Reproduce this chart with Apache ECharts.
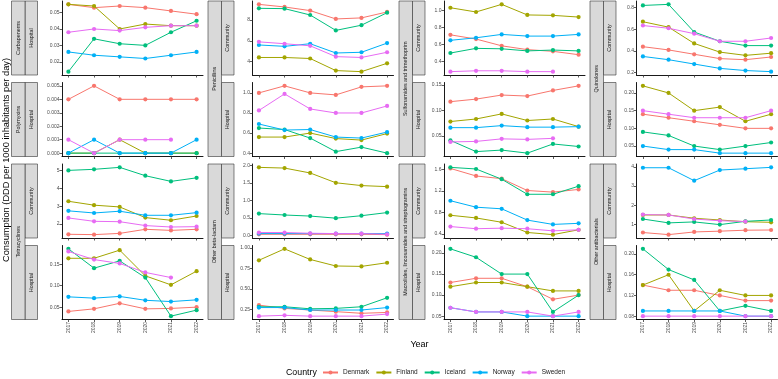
<!DOCTYPE html>
<html>
<head>
<meta charset="utf-8">
<script src="https://cdn.jsdelivr.net/npm/echarts@6/dist/echarts.min.js"></script>
<style>html,body{margin:0;padding:0;background:#fff}#chart{width:778px;height:379px}</style>
</head>
<body>
<div id="chart"></div>
<script>
const years = [2017, 2018, 2019, 2020, 2021, 2022];
const countries = ['Denmark', 'Finland', 'Iceland', 'Norway', 'Sweden'];

// each array: [Denmark, Finland, Iceland, Norway, Sweden]
const carbapenemsHospital = [
  [0.055, 0.053, 0.054, 0.053, 0.051, 0.049],
  [0.055, 0.054, 0.040, 0.043, 0.042, 0.042],
  [0.014, 0.034, 0.031, 0.030, 0.038, 0.045],
  [0.026, 0.024, 0.023, 0.022, 0.024, 0.026],
  [0.038, 0.040, 0.039, 0.041, 0.042, 0.042]];
const polymyxinsHospital = [
  [0.004, 0.005, 0.004, 0.004, 0.004, 0.004],
  [0, 0, 0.001, 0, 0, 0],
  [0, 0, 0, 0, 0, 0],
  [0, 0.001, 0, 0, 0, 0.001],
  [0.001, 0, 0.001, 0.001, 0.001, null]];
const tetracyclinesCommunity = [
  [1.42, 1.40, 1.47, 1.70, 1.64, 1.70],
  [3.28, 3.06, 2.96, 2.36, 2.21, 2.45],
  [5.02, 5.08, 5.19, 4.72, 4.40, 4.60],
  [2.74, 2.62, 2.72, 2.49, 2.49, 2.64],
  [2.34, 2.15, 2.13, 1.91, 1.83, 1.85]];
const tetracyclinesHospital = [
  [0.040, 0.046, 0.059, 0.046, 0.047, 0.050],
  [0.164, 0.164, 0.183, 0.123, 0.102, 0.134],
  [0.186, 0.141, 0.158, 0.119, 0.029, 0.043],
  [0.074, 0.071, 0.075, 0.066, 0.063, 0.067],
  [0.180, 0.161, 0.152, 0.131, 0.119, null]];
const penicillinsCommunity = [
  [9.50, 9.25, 8.90, 8.10, 8.20, 8.77],
  [4.40, 4.40, 4.30, 3.14, 3.04, 3.84],
  [9.12, 9.09, 8.48, 7.00, 7.50, 8.70],
  [5.60, 5.47, 5.72, 4.83, 4.90, 5.78],
  [5.90, 5.72, 5.52, 4.48, 4.40, 4.90]];
const penicillinsHospital = [
  [1.00, 1.07, 1.00, 0.98, 1.06, 1.07],
  [0.56, 0.56, 0.60, 0.545, 0.53, 0.595],
  [0.65, 0.635, 0.55, 0.415, 0.46, 0.40],
  [0.69, 0.63, 0.635, 0.56, 0.55, 0.61],
  [0.825, 0.99, 0.84, 0.80, 0.80, 0.87]];
const otherBetaLactamCommunity = [
  [0.03, 0.03, 0.03, 0.03, 0.03, 0.02],
  [1.94, 1.92, 1.78, 1.50, 1.42, 1.39],
  [0.62, 0.58, 0.55, 0.49, 0.56, 0.65],
  [0.05, 0.05, 0.05, 0.05, 0.05, 0.05],
  [0.08, 0.08, 0.06, 0.05, 0.05, 0.03]];
const otherBetaLactamHospital = [
  [0.30, 0.26, 0.24, 0.22, 0.20, 0.21],
  [0.85, 0.99, 0.86, 0.78, 0.775, 0.82],
  [0.28, 0.28, 0.255, 0.26, 0.28, 0.39],
  [0.27, 0.27, 0.24, 0.24, 0.24, 0.27],
  [0.165, 0.175, 0.165, 0.165, 0.165, 0.19]];
const sulfonamidesCommunity = [
  [0.715, 0.665, 0.585, 0.54, 0.52, 0.48],
  [1.035, 0.985, 1.075, 0.95, 0.945, 0.925],
  [0.50, 0.555, 0.55, 0.525, 0.535, 0.525],
  [0.65, 0.68, 0.72, 0.70, 0.70, 0.72],
  [0.28, 0.29, 0.29, 0.28, 0.28, null]];
const sulfonamidesHospital = [
  [0.117, 0.122, 0.130, 0.128, 0.139, 0.148],
  [0.078, 0.083, 0.093, 0.080, 0.083, 0.068],
  [0.041, 0.019, 0.022, 0.016, 0.034, 0.029],
  [0.066, 0.066, 0.070, 0.067, 0.067, 0.068],
  [0.038, 0.039, 0.044, 0.043, 0.045, null]];
const macrolidesCommunity = [
  [1.62, 1.48, 1.43, 1.21, 1.18, 1.23],
  [0.75, 0.70, 0.62, 0.43, 0.39, 0.48],
  [1.64, 1.61, 1.42, 1.14, 1.14, 1.29],
  [1.02, 0.90, 0.87, 0.66, 0.58, 0.60],
  [0.54, 0.50, 0.51, 0.50, 0.46, 0.48]];
const macrolidesHospital = [
  [0.13, 0.14, 0.14, 0.12, 0.09, 0.10],
  [0.12, 0.13, 0.13, 0.12, 0.11, 0.11],
  [0.21, 0.19, 0.15, 0.15, 0.06, 0.10],
  [0.07, 0.06, 0.06, 0.05, 0.05, 0.05],
  [0.07, 0.06, 0.06, 0.06, 0.05, 0.06]];
const quinolonesCommunity = [
  [0.44, 0.41, 0.37, 0.33, 0.32, 0.345],
  [0.67, 0.62, 0.47, 0.39, 0.36, 0.38],
  [0.82, 0.83, 0.575, 0.49, 0.45, 0.45],
  [0.35, 0.32, 0.28, 0.24, 0.22, 0.21],
  [0.635, 0.61, 0.56, 0.49, 0.49, 0.52]];
const quinolonesHospital = [
  [0.14, 0.13, 0.12, 0.11, 0.10, 0.10],
  [0.22, 0.20, 0.15, 0.16, 0.12, 0.14],
  [0.09, 0.08, 0.05, 0.04, 0.05, 0.06],
  [0.05, 0.04, 0.04, 0.03, 0.03, 0.03],
  [0.15, 0.14, 0.13, 0.13, 0.13, 0.15]];
const otherAntibacterialsCommunity = [
  [0.59, 0.48, 0.62, 0.66, 0.71, 0.72],
  [1.50, 1.50, 1.33, 1.24, 1.15, 1.12],
  [1.29, 1.09, 1.14, 1.00, 1.17, 1.24],
  [3.95, 3.95, 3.28, 3.83, 3.90, 3.97],
  [1.52, 1.50, 1.29, 1.20, 1.16, null]];
const otherAntibacterialsHospital = [
  [0.14, 0.13, 0.13, 0.12, 0.11, 0.11],
  [0.14, 0.16, 0.09, 0.13, 0.12, 0.12],
  [0.21, 0.17, 0.15, 0.09, 0.10, 0.09],
  [0.09, 0.09, 0.09, 0.09, 0.08, 0.08],
  [0.08, 0.08, 0.08, 0.08, 0.08, 0.08]];

// tick labels
const ticksCarbapenemsHosp = ['0.02', '0.03', '0.04', '0.05'];
const ticksPolymyxinsHosp = ['0.000', '0.001', '0.002', '0.003', '0.004', '0.005'];
const ticksTetraComm = ['2', '3', '4', '5'];
const ticksTetraHosp = ['0.05', '0.10', '0.15'];
const ticksPeniComm = ['4', '6', '8'];
const ticksPeniHosp = ['0.4', '0.6', '0.8', '1.0'];
const ticksOblComm = ['0.0', '0.5', '1.0', '1.5', '2.0'];
const ticksOblHosp = ['0.25', '0.50', '0.75', '1.00'];
const ticksSulfComm = ['0.4', '0.6', '0.8', '1.0'];
const ticksSulfHosp = ['0.05', '0.10', '0.15'];
const ticksMacComm = ['0.4', '0.8', '1.2', '1.6'];
const ticksMacHosp = ['0.05', '0.10', '0.15', '0.20'];
const ticksQuinComm = ['0.2', '0.4', '0.6', '0.8'];
const ticksQuinHosp = ['0.05', '0.10', '0.15', '0.20'];
const ticksOaComm = ['1', '2', '3', '4'];
const ticksOaHosp = ['0.08', '0.12', '0.16', '0.20'];

const classNames = ['Carbapenems', 'Polymyxins', 'Tetracyclines', 'Penicillins', 'Other beta-lactam',
  'Sulfonamides and trimethoprim', 'Macrolides, lincosamides and streptogramins', 'Quinolones', 'Other antibacterials'];

// layout
const colors = ['#F8766D', '#A3A500', '#00BF7D', '#00B0F6', '#E76BF3'];
const colLeft = [62, 252.5, 444, 636.5];
const panelW = 141;
const rowTop = [1, 82.5, 164, 245.5];
const panelH = 74;
const stripEnd = [37.5, 234, 425, 616];
const innerW = 12.5, outerW = 13.5;
const FONT = '"Liberation Sans", Arial, Helvetica, sans-serif';

const panels = [
  {col: 0, row: 0, data: carbapenemsHospital, ticks: ticksCarbapenemsHosp, setting: 'Hospital'},
  {col: 0, row: 1, data: polymyxinsHospital, ticks: ticksPolymyxinsHosp, setting: 'Hospital'},
  {col: 0, row: 2, data: tetracyclinesCommunity, ticks: ticksTetraComm, setting: 'Community'},
  {col: 0, row: 3, data: tetracyclinesHospital, ticks: ticksTetraHosp, setting: 'Hospital'},
  {col: 1, row: 0, data: penicillinsCommunity, ticks: ticksPeniComm, setting: 'Community'},
  {col: 1, row: 1, data: penicillinsHospital, ticks: ticksPeniHosp, setting: 'Hospital'},
  {col: 1, row: 2, data: otherBetaLactamCommunity, ticks: ticksOblComm, setting: 'Community'},
  {col: 1, row: 3, data: otherBetaLactamHospital, ticks: ticksOblHosp, setting: 'Hospital'},
  {col: 2, row: 0, data: sulfonamidesCommunity, ticks: ticksSulfComm, setting: 'Community'},
  {col: 2, row: 1, data: sulfonamidesHospital, ticks: ticksSulfHosp, setting: 'Hospital'},
  {col: 2, row: 2, data: macrolidesCommunity, ticks: ticksMacComm, setting: 'Community'},
  {col: 2, row: 3, data: macrolidesHospital, ticks: ticksMacHosp, setting: 'Hospital'},
  {col: 3, row: 0, data: quinolonesCommunity, ticks: ticksQuinComm, setting: 'Community'},
  {col: 3, row: 1, data: quinolonesHospital, ticks: ticksQuinHosp, setting: 'Hospital'},
  {col: 3, row: 2, data: otherAntibacterialsCommunity, ticks: ticksOaComm, setting: 'Community'},
  {col: 3, row: 3, data: otherAntibacterialsHospital, ticks: ticksOaHosp, setting: 'Hospital'}
];
const outerStrips = [
  {col: 0, r0: 0, r1: 0, name: classNames[0]},
  {col: 0, r0: 1, r1: 1, name: classNames[1]},
  {col: 0, r0: 2, r1: 3, name: classNames[2]},
  {col: 1, r0: 0, r1: 1, name: classNames[3]},
  {col: 1, r0: 2, r1: 3, name: classNames[4]},
  {col: 2, r0: 0, r1: 1, name: classNames[5]},
  {col: 2, r0: 2, r1: 3, name: classNames[6]},
  {col: 3, r0: 0, r1: 1, name: classNames[7]},
  {col: 3, r0: 2, r1: 3, name: classNames[8]}
];

const grids = [], xAxes = [], yAxes = [], series = [], graphics = [];
const yrSpan = years[years.length - 1] - years[0];

panels.forEach((p, i) => {
  grids.push({left: colLeft[p.col], top: rowTop[p.row], width: panelW, height: panelH, containLabel: false});
  const vals = [];
  p.data.forEach(a => a.forEach(v => { if (v != null) vals.push(v); }));
  const lo = Math.min(...vals), hi = Math.max(...vals), r = hi - lo;
  const ymin = lo - r * 0.05, ymax = hi + r * 0.05;
  const tickVals = p.ticks.map(Number).filter(v => v >= ymin && v <= ymax);
  const labelMap = {};
  p.ticks.forEach(t => { labelMap[String(Number(t))] = t; });
  xAxes.push({
    type: 'value', gridIndex: i,
    min: years[0] - yrSpan * 0.05, max: years[years.length - 1] + yrSpan * 0.05,
    axisLine: {show: true, onZero: false, lineStyle: {color: '#000', width: 0.9}},
    axisTick: {show: true, length: 2.5, customValues: years, lineStyle: {color: '#333', width: 0.8}},
    axisLabel: {show: p.row === 3, customValues: years, rotate: 90, margin: 2.5, fontSize: 5,
      color: '#4D4D4D', fontFamily: FONT, formatter: v => String(v)},
    splitLine: {show: false}
  });
  yAxes.push({
    type: 'value', gridIndex: i, min: ymin, max: ymax,
    axisLine: {show: true, onZero: false, lineStyle: {color: '#000', width: 0.9}},
    axisTick: {show: true, length: 2.5, customValues: tickVals, lineStyle: {color: '#333', width: 0.8}},
    axisLabel: {show: true, customValues: tickVals, margin: 2.5, fontSize: 5, color: '#4D4D4D',
      fontFamily: FONT, formatter: v => labelMap[String(Number(v.toFixed(6)))] || String(v)},
    splitLine: {show: false}
  });
  p.data.forEach((arr, c) => {
    const pts = [];
    arr.forEach((v, k) => { if (v != null) pts.push([years[k], v]); });
    series.push({
      type: 'line', name: countries[c], xAxisIndex: i, yAxisIndex: i, data: pts,
      symbol: 'circle', symbolSize: 4.2, showSymbol: true,
      lineStyle: {width: 1, color: colors[c]}, itemStyle: {color: colors[c]},
      emphasis: {disabled: true}, animation: false, z: 2 + c
    });
  });
  // inner strip
  const x1 = stripEnd[p.col] - innerW;
  graphics.push({type: 'rect', shape: {x: x1, y: rowTop[p.row], width: innerW, height: panelH},
    style: {fill: '#D9D9D9', stroke: '#333333', lineWidth: 0.6}, z: 10});
  graphics.push({type: 'text', x: x1 + innerW / 2, y: rowTop[p.row] + panelH / 2, rotation: Math.PI / 2,
    style: {text: p.setting, fontSize: 5.4, fontFamily: FONT, fill: '#1A1A1A', align: 'center', verticalAlign: 'middle'}, z: 11});
});

outerStrips.forEach(s => {
  const x0 = stripEnd[s.col] - innerW - outerW;
  const y0 = rowTop[s.r0], y1 = rowTop[s.r1] + panelH;
  graphics.push({type: 'rect', shape: {x: x0, y: y0, width: outerW, height: y1 - y0},
    style: {fill: '#D9D9D9', stroke: '#333333', lineWidth: 0.6}, z: 10});
  graphics.push({type: 'text', x: x0 + outerW / 2, y: (y0 + y1) / 2, rotation: Math.PI / 2,
    style: {text: s.name, fontSize: 5.4, fontFamily: FONT, fill: '#1A1A1A', align: 'center', verticalAlign: 'middle'}, z: 11});
});

graphics.push({type: 'text', x: 6, y: 160, rotation: Math.PI / 2,
  style: {text: 'Consumption (DDD per 1000 inhabitants per day)', fontSize: 9.3, fontFamily: FONT, fill: '#000',
    align: 'center', verticalAlign: 'middle'}});
graphics.push({type: 'text', x: 419.5, y: 345,
  style: {text: 'Year', fontSize: 9, fontFamily: FONT, fill: '#000', align: 'center', verticalAlign: 'middle'}});
graphics.push({type: 'text', x: 286, y: 373,
  style: {text: 'Country', fontSize: 8.8, fontFamily: FONT, fill: '#000', align: 'left', verticalAlign: 'middle'}});

const chart = echarts.init(document.getElementById('chart'), null, {renderer: 'canvas'});
chart.setOption({
  animation: false,
  backgroundColor: '#fff',
  grid: grids, xAxis: xAxes, yAxis: yAxes, series: series,
  legend: {
    data: countries, left: 322, top: 369, orient: 'horizontal', padding: 0,
    itemWidth: 15, itemHeight: 5, itemGap: 6, selectedMode: false,
    textStyle: {fontSize: 6.5, fontFamily: FONT, color: '#1A1A1A'}
  },
  graphic: {elements: graphics}
});
</script>
</body>
</html>
